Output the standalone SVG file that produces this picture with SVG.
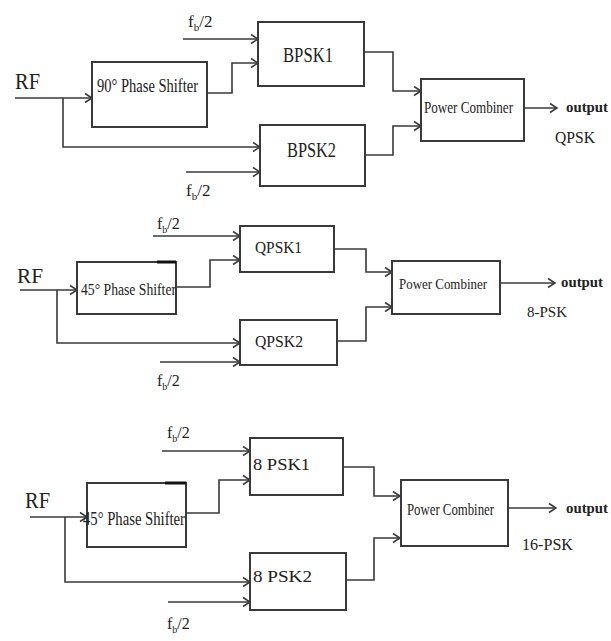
<svg xmlns="http://www.w3.org/2000/svg" width="611" height="641" viewBox="0 0 611 641">
<style>
.box{fill:#fff;stroke:#3a3a3a;stroke-width:2}
.wire{fill:none;stroke:#3a3a3a;stroke-width:1.6}
.t{font-family:"Liberation Serif","Times New Roman",serif;fill:#222}
.b{font-weight:bold}
.dash{stroke:#111;stroke-width:3}
</style>
<defs>
<marker id="ah" markerUnits="userSpaceOnUse" markerWidth="12" markerHeight="12" refX="9" refY="6" orient="auto">
<path d="M2,1.5 L9,6 L2,10.5" fill="none" stroke="#3a3a3a" stroke-width="1.5"/>
</marker>
</defs>
<rect width="611" height="641" fill="#fff"/>

<g id="connectors" class="wire" marker-end="url(#ah)">
<path d="M15,98 H92"/>
<path d="M63,98 V147 H260"/>
<path d="M207,93 H232 V63 H258"/>
<path d="M183,39 H258"/>
<path d="M186,172 H260"/>
<path d="M364,52 H393 V91 H421"/>
<path d="M365,155 H393 V126 H421"/>
<path d="M524,108 H557"/>

<path d="M20,290 H77"/>
<path d="M57,290 V343 H240"/>
<path d="M176,287 H210 V260 H240"/>
<path d="M153,236 H240"/>
<path d="M160,362 H240"/>
<path d="M334,249 H366 V272 H392"/>
<path d="M337,341 H366 V307 H392"/>
<path d="M500,283 H555"/>

<path d="M30,517 H87"/>
<path d="M65,517 V582 H250"/>
<path d="M186,513 H219 V480 H250"/>
<path d="M162,451 H250"/>
<path d="M168,602 H250"/>
<path d="M343,467 H374 V496 H400"/>
<path d="M346,580 H374 V538 H400"/>
<path d="M508,508 H556"/>
</g>

<!-- Section 1 -->
<text class="t" x="15" y="89" font-size="24" textLength="25" lengthAdjust="spacingAndGlyphs">RF</text>
<text class="t" x="188" y="27" font-size="17">f<tspan font-size="11" dy="4">b</tspan><tspan dy="-4">/2</tspan></text>
<text class="t" x="186" y="196" font-size="17">f<tspan font-size="11" dy="4">b</tspan><tspan dy="-4">/2</tspan></text>
<g id="ps1">
<rect class="box" x="92" y="62" width="115" height="65"/>
<text class="t" x="97" y="92" font-size="18" textLength="101" lengthAdjust="spacingAndGlyphs">90° Phase Shifter</text>
</g>
<g id="bpsk1">
<rect class="box" x="258" y="22" width="106" height="64"/>
<text class="t" x="283" y="62" font-size="21" textLength="50" lengthAdjust="spacingAndGlyphs">BPSK1</text>
</g>
<g id="bpsk2">
<rect class="box" x="260" y="125" width="105" height="61"/>
<text class="t" x="287" y="157" font-size="21" textLength="49" lengthAdjust="spacingAndGlyphs">BPSK2</text>
</g>
<g id="pc1">
<rect class="box" x="421" y="79" width="103" height="62"/>
<text class="t" x="424" y="113" font-size="16" textLength="89" lengthAdjust="spacingAndGlyphs">Power Combiner</text>
</g>
<text class="t b" x="566" y="112" font-size="15" textLength="42" lengthAdjust="spacingAndGlyphs">output</text>
<text class="t" x="555" y="143" font-size="17" textLength="40" lengthAdjust="spacingAndGlyphs">QPSK</text>

<!-- Section 2 -->
<text class="t" x="17" y="283" font-size="21" textLength="26" lengthAdjust="spacingAndGlyphs">RF</text>
<text class="t" x="157" y="229" font-size="16">f<tspan font-size="10" dy="4">b</tspan><tspan dy="-4">/2</tspan></text>
<text class="t" x="157" y="386" font-size="16">f<tspan font-size="10" dy="4">b</tspan><tspan dy="-4">/2</tspan></text>
<g id="ps2">
<rect class="box" x="77" y="262" width="99" height="52"/>
<line class="dash" x1="157" y1="262" x2="176" y2="262"/>
<text class="t" x="81" y="295" font-size="17" textLength="95" lengthAdjust="spacingAndGlyphs">45° Phase Shifter</text>
</g>
<g id="qpsk1">
<rect class="box" x="240" y="226" width="94" height="46"/>
<text class="t" x="255" y="253" font-size="16" textLength="47" lengthAdjust="spacingAndGlyphs">QPSK1</text>
</g>
<g id="qpsk2">
<rect class="box" x="240" y="320" width="97" height="45"/>
<text class="t" x="255" y="347" font-size="16" textLength="48" lengthAdjust="spacingAndGlyphs">QPSK2</text>
</g>
<g id="pc2">
<rect class="box" x="392" y="261" width="108" height="53"/>
<text class="t" x="399" y="289" font-size="15" textLength="88" lengthAdjust="spacingAndGlyphs">Power Combiner</text>
</g>
<text class="t b" x="561" y="287" font-size="15" textLength="42" lengthAdjust="spacingAndGlyphs">output</text>
<text class="t" x="527" y="317" font-size="15" textLength="40" lengthAdjust="spacingAndGlyphs">8-PSK</text>

<!-- Section 3 -->
<text class="t" x="25" y="508" font-size="23" textLength="25" lengthAdjust="spacingAndGlyphs">RF</text>
<text class="t" x="167" y="438" font-size="16">f<tspan font-size="10" dy="4">b</tspan><tspan dy="-4">/2</tspan></text>
<text class="t" x="167" y="629" font-size="16">f<tspan font-size="10" dy="4">b</tspan><tspan dy="-4">/2</tspan></text>
<g id="ps3">
<rect class="box" x="87" y="483" width="99" height="64"/>
<line class="dash" x1="165" y1="483" x2="186" y2="483"/>
<text class="t" x="83" y="525" font-size="18" textLength="102" lengthAdjust="spacingAndGlyphs">45° Phase Shifter</text>
</g>
<g id="psk8_1">
<rect class="box" x="250" y="438" width="93" height="57"/>
<text class="t" x="253" y="470" font-size="17" textLength="57" lengthAdjust="spacingAndGlyphs">8 PSK1</text>
</g>
<g id="psk8_2">
<rect class="box" x="250" y="553" width="96" height="57"/>
<text class="t" x="253" y="582" font-size="17" textLength="59" lengthAdjust="spacingAndGlyphs">8 PSK2</text>
</g>
<g id="pc3">
<rect class="box" x="401" y="480" width="107" height="66"/>
<text class="t" x="407" y="515" font-size="16" textLength="87" lengthAdjust="spacingAndGlyphs">Power Combiner</text>
</g>
<text class="t b" x="566" y="513" font-size="15" textLength="42" lengthAdjust="spacingAndGlyphs">output</text>
<text class="t" x="522" y="550" font-size="16" textLength="51" lengthAdjust="spacingAndGlyphs">16-PSK</text>
</svg>
